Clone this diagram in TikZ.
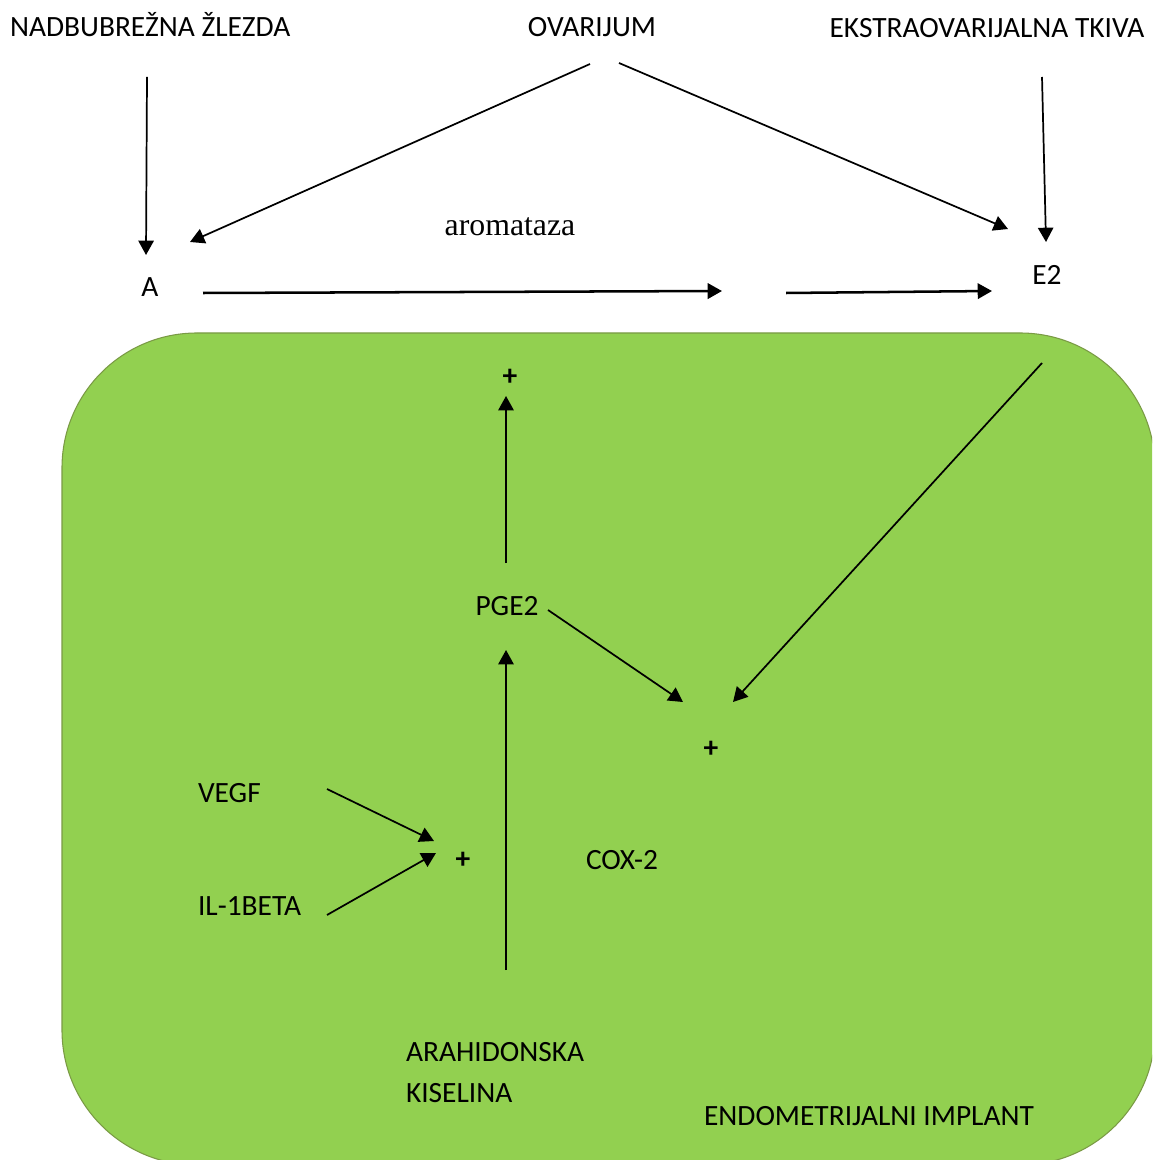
\documentclass[tikz,border=0pt]{standalone}
\usepackage{fontspec}
\setmainfont{Carlito}
\newfontfamily\serifface{Liberation Serif}
\usetikzlibrary{arrows.meta}
\definecolor{implant}{HTML}{92D050}
\definecolor{implantedge}{HTML}{7A9A45}
\tikzset{
  lbl/.style={inner sep=0pt, outer sep=0pt, font=\fontsize{11.1}{13}\selectfont},
  plus/.style={inner sep=0pt, font=\fontsize{11.1}{13}\selectfont\bfseries},
  conn/.style={line width=0.65pt, -{Triangle[length=5.4pt,width=5.8pt]}},
  thickconn/.style={line width=0.95pt, -{Triangle[length=5.4pt,width=5.8pt]}},
}
\begin{document}
\begin{tikzpicture}[x=0.3774pt, y=-0.3774pt]
\useasboundingbox (0,0) rectangle (1152,1160);
\begin{scope}
\clip (0,0) rectangle (1152,1160);
\path[fill=implant, draw=implantedge, line width=0.4pt, rounded corners=50.9pt]
  (62,333) rectangle (1155,1165);
\end{scope}

% texts
\node[lbl, anchor=base west] (nad) at (10,37) {NADBUBREŽNA ŽLEZDA};
\node[lbl, anchor=base] (ova) at (592,37) {OVARIJUM};
\node[lbl, anchor=base] (eks) at (987,38) {EKSTRAOVARIJALNA TKIVA};
\node[inner sep=0pt, anchor=base, font=\serifface\fontsize{12}{14}\selectfont] (aro) at (510,236) {aromataza};
\node[lbl, anchor=base] (a) at (150,297) {A};
\node[lbl, anchor=base] (e2) at (1047,285) {E2};
\node[plus] (p1) at (510,377) {+};
\node[lbl, anchor=base] (pge) at (507,615) {PGE2};
\node[plus] (p2) at (711,749) {+};
\node[lbl, anchor=base west] (vegf) at (198,802) {VEGF};
\node[plus] (p3) at (463,860) {+};
\node[lbl, anchor=base] (cox) at (622,869) {COX-2};
\node[lbl, anchor=base west] (il) at (198,915) {IL-1BETA};
\node[lbl, anchor=base west] (ara) at (406,1061) {ARAHIDONSKA};
\node[lbl, anchor=base west] (kis) at (406,1102) {KISELINA};
\node[lbl, anchor=base] (endo) at (869,1125) {ENDOMETRIJALNI IMPLANT};

% connector end points
\coordinate (nadS) at (147,77);   \coordinate (aN) at (146,255);
\coordinate (ovaL) at (590,64);   \coordinate (aNE) at (190,242);
\coordinate (ovaR) at (619,63);   \coordinate (e2NW) at (1008,229);
\coordinate (eksS) at (1042,77);  \coordinate (e2N) at (1046,242);
\coordinate (aE) at (203,293);    \coordinate (midW) at (722,291);
\coordinate (midE) at (786,293);  \coordinate (e2W) at (992,291);
\coordinate (e2S) at (1042,363);  \coordinate (p2NE) at (733,702);
\coordinate (pgeN) at (506,563);  \coordinate (p1S) at (506,396);
\coordinate (pgeE) at (548,610);  \coordinate (p2NW) at (683,702);
\coordinate (araN) at (506,970);  \coordinate (pgeS) at (506,650);
\coordinate (vegfE) at (327,789); \coordinate (p3NW) at (434,841);
\coordinate (ilE) at (327,915);   \coordinate (p3SW) at (436,853);

\draw[conn] (nadS) -- (aN);
\draw[conn] (ovaL) -- (aNE);
\draw[conn] (ovaR) -- (e2NW);
\draw[conn] (eksS) -- (e2N);
\draw[thickconn] (aE) -- (midW);
\draw[thickconn] (midE) -- (e2W);
\draw[conn] (e2S) -- (p2NE);
\draw[conn] (pgeN) -- (p1S);
\draw[conn] (pgeE) -- (p2NW);
\draw[conn] (araN) -- (pgeS);
\draw[conn] (vegfE) -- (p3NW);
\draw[conn] (ilE) -- (p3SW);
\end{tikzpicture}
\end{document}
